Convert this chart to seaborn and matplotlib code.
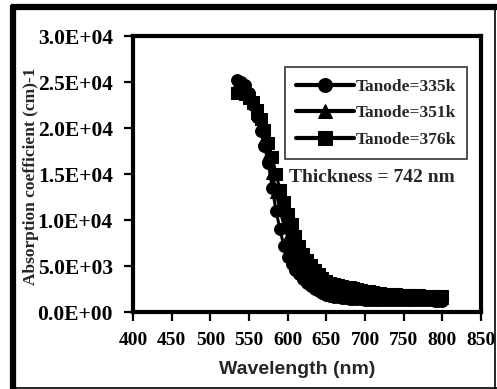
import matplotlib
matplotlib.use("Agg")
import matplotlib.pyplot as plt
import seaborn as sns
import pandas as pd
import numpy as np
from matplotlib.ticker import FuncFormatter, MultipleLocator
from matplotlib.lines import Line2D

wavelength = list(range(535, 801, 5))

alpha_335k = [25200, 25000, 24700, 23800, 22500, 21200, 19700, 18000, 16200, 13500,
              11000, 9000, 7200, 6000, 5200, 4600, 4100, 3600, 3200, 2800,
              2500, 2300, 2100, 1900,
              1750, 1650, 1580, 1520, 1470, 1430, 1400, 1380, 1360, 1350,
              1340, 1330, 1320, 1310, 1300, 1300, 1290, 1290, 1280, 1280,
              1280, 1270, 1270, 1270, 1260, 1260, 1260, 1250, 1250, 1250]
alpha_351k = [24700, 24600, 24300, 23700, 22700, 21600, 20300, 18800, 17100, 15100,
              13000, 11100, 9500, 8200, 7200, 6300, 5500, 4900, 4300, 3800,
              3400, 3100, 2800, 2600,
              2400, 2250, 2150, 2050, 1980, 1900, 1850, 1800, 1760, 1720,
              1700, 1680, 1660, 1640, 1620, 1600, 1590, 1580, 1570, 1560,
              1550, 1540, 1530, 1520, 1510, 1500, 1500, 1490, 1480, 1480]
alpha_376k = [23800, 23900, 23700, 23300, 22800, 22000, 21000, 19800, 18400, 16800,
              15000, 13300, 12000, 10700, 9600, 8300, 7200, 6300, 5700, 5100,
              4600, 4100, 3700, 3400,
              3200, 3050, 2950, 2850, 2750, 2700, 2600, 2500, 2400, 2300,
              2250, 2200, 2100, 2050, 2000, 1980, 1950, 1920, 1900, 1880,
              1860, 1840, 1820, 1800, 1780, 1760, 1740, 1720, 1700, 1690]

series_names = ["Tanode=335k", "Tanode=351k", "Tanode=376k"]
x_ticks = list(range(400, 851, 50))

sns.set_style("white")
plt.rcParams["font.family"] = ["Liberation Serif", "DejaVu Serif"]

rows = []
for name, vals in zip(series_names, [alpha_335k, alpha_351k, alpha_376k]):
    for w, v in zip(wavelength, vals):
        rows.append({"Wavelength": w, "alpha": v, "series": name})
df = pd.DataFrame(rows)

fig = plt.figure(figsize=(4.97, 3.89), dpi=100)
ax = fig.add_axes([133/497, 1-312/389, 348/497, 276/389])

sns.lineplot(data=df, x="Wavelength", y="alpha", hue="series", style="series",
             markers=["o", "^", "s"], dashes=False, palette=["black"]*3,
             markersize=8.5, linewidth=2.2, markeredgecolor="black", ax=ax)

ax.set_xlim(400, 850)
ax.set_ylim(0, 30000)
ax.set_xticks(x_ticks)
ax.yaxis.set_major_locator(MultipleLocator(5000))

def fmt(v, pos):
    if v == 0:
        return "0.0E+00"
    e = int(np.floor(np.log10(abs(v))))
    m = v / 10**e
    return f"{m:.1f}E+{e:02d}"
ax.yaxis.set_major_formatter(FuncFormatter(fmt))

for s in ax.spines.values():
    s.set_linewidth(3)
    s.set_color("black")
ax.tick_params(axis="both", direction="out", length=6.5, width=1.6, colors="black",
               bottom=True, left=True)
ax.tick_params(axis="y", labelsize=15.5, pad=8)
ax.tick_params(axis="x", labelsize=14, pad=8)
for lab in ax.get_xticklabels() + ax.get_yticklabels():
    lab.set_fontweight("bold")

ax.set_xlabel("")
ax.set_ylabel("")
fig.text(297/497, 1-370/389, "Wavelength (nm)", ha="center", va="center",
         fontsize=14, fontweight="bold", family=["Liberation Sans", "DejaVu Sans"])
fig.text(31/497, 1-176/389, "Absorption coefficient (cm)-1", ha="center", va="center",
         rotation=90, fontsize=12.5, fontweight="bold")

ax.text(0.449, 0.487, "Thickness = 742 nm", transform=ax.transAxes,
        ha="left", va="center", fontsize=14, fontweight="bold")

leg = ax.legend(loc="upper right", bbox_to_anchor=(0.96, 0.887), frameon=True,
                fancybox=False, edgecolor="black", handlelength=3.3,
                prop={"weight": "bold", "size": 12.5}, borderpad=0.65,
                labelspacing=0.6, handletextpad=0.1, borderaxespad=0)
leg.get_frame().set_linewidth(1.2)
for h in leg.legend_handles:
    h.set_linewidth(3)
    h.set_markersize(10)

# outer frame: thick left/top, thin right/bottom
fig.add_artist(Line2D([13/497, 13/497], [0, 1-5/389], transform=fig.transFigure,
                      color="black", linewidth=4.5, solid_capstyle="butt"))
fig.add_artist(Line2D([11/497, 1], [1-7/389, 1-7/389], transform=fig.transFigure,
                      color="black", linewidth=4.5, solid_capstyle="butt"))
fig.add_artist(Line2D([495/497, 495/497], [0, 1-7/389], transform=fig.transFigure,
                      color="black", linewidth=1.2))
fig.add_artist(Line2D([11/497, 1], [1.5/389, 1.5/389], transform=fig.transFigure,
                      color="black", linewidth=1.2))

fig.savefig("out.png", dpi=100)
